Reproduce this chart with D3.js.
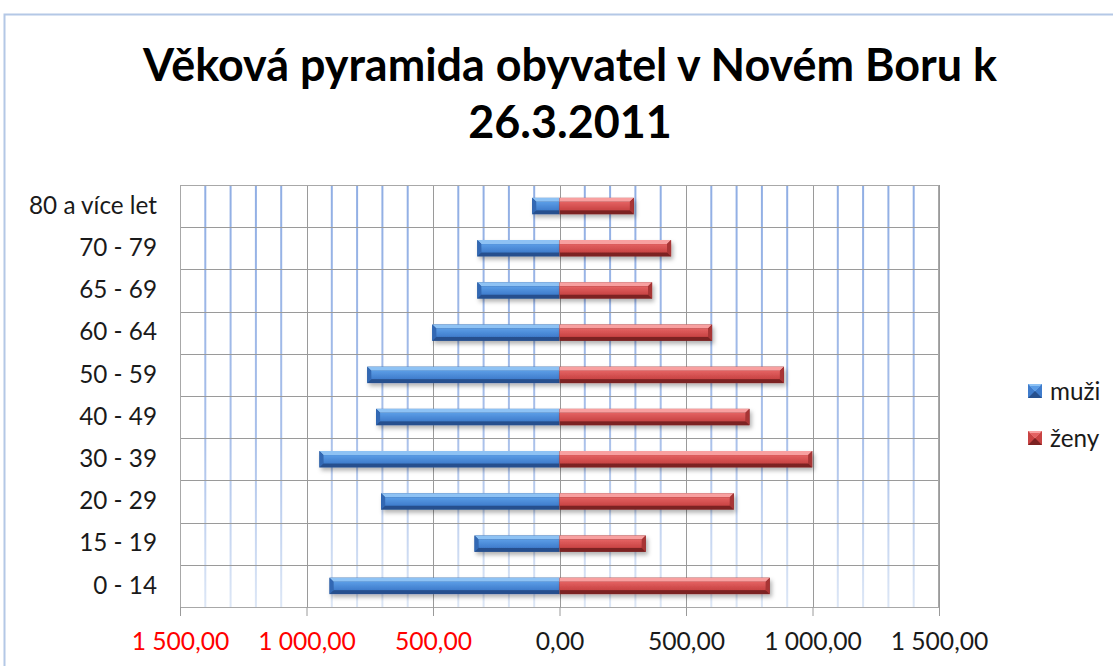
<!DOCTYPE html>
<html>
<head>
<meta charset="utf-8">
<script src="https://cdn.jsdelivr.net/npm/d3@7"></script>
<style>
  body { margin: 0; background: #fff; }
  svg { display: block; font-family: Lato, "Open Sans", sans-serif; }
</style>
</head>
<body>
<svg id="chart" width="1113" height="666"></svg>
<script>
// data
var categories = ["0 - 14", "15 - 19", "20 - 29", "30 - 39", "40 - 49", "50 - 59", "60 - 64", "65 - 69", "70 - 79", "80 a více let"]
var muzi = [909, 336, 705, 949, 725, 760, 503, 325, 325, 108]
var zeny = [831, 341, 689, 999, 751, 887, 603, 366, 441, 294]
var seriesNames = ["muži", "ženy"]
var titleLines = ["Věková pyramida obyvatel v Novém Boru k", "26.3.2011"]
var majorTicks = [-1500, -1000, -500, 0, 500, 1000, 1500]

var svg = d3.select('#chart')
var W = 1113, H = 666
var plot = {left: 180, right: 939, top: 185, bottom: 607}

var cz = d3.formatLocale({decimal: ",", thousands: " ", grouping: [3], currency: ["", " Kč"]})
var fmt = cz.format(",.2f")

// fit a text element to a width measured from the reference
function fit(sel, target) {
	var n = sel.node()
	var fs = parseFloat(sel.attr('font-size'))
	var w = n.getComputedTextLength()
	sel.attr('font-size', fs * target / w)
	return fs * target / w
}

var defs = svg.append('defs')

var shadow = defs.append('filter').attr('id', 'sh').attr('x', '-10%').attr('y', '-50%').attr('width', '130%').attr('height', '220%')
shadow.append('feDropShadow').attr('dx', 2).attr('dy', 3).attr('stdDeviation', 2).attr('flood-color', '#000').attr('flood-opacity', 0.3)

var gridGrad = defs.append('linearGradient').attr('id', 'gridGrad')
	.attr('gradientUnits', 'userSpaceOnUse').attr('x1', 0).attr('x2', 0).attr('y1', plot.top).attr('y2', plot.bottom)
gridGrad.append('stop').attr('offset', '0%').attr('stop-color', '#90aee4')
gridGrad.append('stop').attr('offset', '60%').attr('stop-color', '#a9c0ea')
gridGrad.append('stop').attr('offset', '100%').attr('stop-color', '#dde7f6')

var palettes = {
	muzi: {top: '#8ec2f4', face1: '#5b9de6', face2: '#3f7ccc', bottom: '#26508e', end: '#3168b4'},
	zeny: {top: '#f8a0a0', face1: '#e46262', face2: '#c84343', bottom: '#7c2222', end: '#a83535'}
}
Object.keys(palettes).forEach(function(k) {
	var g = defs.append('linearGradient').attr('id', 'face_' + k).attr('x1', 0).attr('x2', 0).attr('y1', 0).attr('y2', 1)
	g.append('stop').attr('offset', '0%').attr('stop-color', palettes[k].face1)
	g.append('stop').attr('offset', '100%').attr('stop-color', palettes[k].face2)
})

// outer frame
svg.append('rect')
	.attr('x', 4.5).attr('y', 14.5).attr('width', W + 20).attr('height', H + 20)
	.attr('fill', '#fff').attr('stroke', '#b4c8e6').attr('stroke-width', 2)

// title
var title = svg.append('text')
	.attr('text-anchor', 'middle').attr('font-weight', 'bold').attr('fill', '#000')
title.append('tspan').attr('x', 570).attr('y', 81).text(titleLines[0])
title.append('tspan').attr('x', 570).attr('y', 138).text(titleLines[1])
title.attr('font-size', 38)
var t0 = title.select('tspan').node().getComputedTextLength()
title.attr('font-size', 38 * 854 / t0)

var x = d3.scaleLinear().domain([-1500, 1500]).range([plot.left, plot.right])
var y = d3.scaleBand().domain(categories.slice().reverse()).range([plot.top, plot.bottom])

// minor gridlines (every 100)
var minor = d3.range(-1400, 1500, 100).filter(function(d) { return d % 500 !== 0 })
svg.append('g').selectAll('line').data(minor).join('line')
	.attr('x1', function(d) { return x(d) }).attr('x2', function(d) { return x(d) })
	.attr('y1', plot.top).attr('y2', plot.bottom)
	.attr('stroke', 'url(#gridGrad)').attr('stroke-width', 2)

// horizontal category boundaries
svg.append('g').selectAll('line').data(categories).join('line')
	.attr('x1', plot.left).attr('x2', plot.right)
	.attr('y1', function(d) { return Math.round(y(d)) + 0.5 }).attr('y2', function(d) { return Math.round(y(d)) + 0.5 })
	.attr('stroke', '#9a9a9a').attr('stroke-width', 1)

// major gridlines
svg.append('g').selectAll('line').data(majorTicks).join('line')
	.attr('x1', function(d) { return Math.round(x(d)) + 0.5 }).attr('x2', function(d) { return Math.round(x(d)) + 0.5 })
	.attr('y1', plot.top).attr('y2', plot.bottom)
	.attr('stroke', '#9a9a9a').attr('stroke-width', 1)

svg.append('rect')
	.attr('x', plot.left + 0.5).attr('y', plot.top + 0.5)
	.attr('width', plot.right - plot.left - 1).attr('height', plot.bottom - plot.top)
	.attr('fill', 'none').attr('stroke', '#a8a8a8')

// beveled bar, outer = side of the free end (-1 left, 1 right)
function bar(g, xa, xb, yt, h, p, key, outer) {
	var b = 4
	var x0 = Math.min(xa, xb), x1 = Math.max(xa, xb)
	var gb = g.append('g').attr('filter', 'url(#sh)')
	gb.append('rect').attr('x', x0).attr('y', yt).attr('width', x1 - x0).attr('height', h).attr('fill', p.bottom)
	var l = outer < 0 ? b : 0, r = outer > 0 ? b : 0
	// top bevel
	gb.append('polygon').attr('fill', p.top)
		.attr('points', [[x0, yt], [x1, yt], [x1 - r, yt + b], [x0 + l, yt + b]].join(' '))
	// end cap
	var ex = outer < 0 ? x0 : x1, ei = outer < 0 ? x0 + b : x1 - b
	gb.append('polygon').attr('fill', p.end)
		.attr('points', [[ex, yt], [ei, yt + b], [ei, yt + h - b], [ex, yt + h]].join(' '))
	// face
	gb.append('rect').attr('x', x0 + l).attr('y', yt + b).attr('width', x1 - x0 - l - r).attr('height', h - 2 * b)
		.attr('fill', 'url(#face_' + key + ')')
}

var barH = y.bandwidth() * 0.39
var bars = svg.append('g')
categories.forEach(function(c, i) {
	var yt = y(c) + (y.bandwidth() - barH) / 2
	bar(bars, x(-muzi[i]), x(0), yt, barH, palettes.muzi, 'muzi', -1)
	bar(bars, x(0), x(zeny[i]), yt, barH, palettes.zeny, 'zeny', 1)
})

// x axis
var xAxis = svg.append('g').attr('transform', 'translate(0,' + plot.bottom + ')')
	.call(d3.axisBottom(x).tickValues(majorTicks).tickSize(9).tickPadding(16)
		.tickFormat(function(d) { return fmt(Math.abs(d)) }))
xAxis.select('.domain').remove()
xAxis.selectAll('.tick line').attr('stroke', '#9a9a9a')
xAxis.selectAll('.tick text')
	.attr('font-family', 'Lato, sans-serif').attr('font-size', 22)
	.attr('fill', function(d) { return d < 0 ? '#ff0000' : '#1a1a1a' })
var tickFs = fit(xAxis.selectAll('.tick text').filter(function(d) { return d === 1000 }), 94)
xAxis.selectAll('.tick text').attr('font-size', tickFs * 1.04)

// y axis labels
var yAxis = svg.append('g').attr('transform', 'translate(' + plot.left + ',0)')
	.call(d3.axisLeft(y).tickSize(0).tickPadding(23))
yAxis.select('.domain').remove()
yAxis.selectAll('.tick text').attr('font-family', 'Lato, sans-serif').attr('font-size', 20).attr('fill', '#1a1a1a')
var yFs = fit(yAxis.selectAll('.tick text').filter(function(d) { return d === "80 a více let" }), 128)
yAxis.selectAll('.tick text').attr('font-size', yFs)

// legend
var legend = svg.append('g').attr('transform', 'translate(1028,384)')
var lg = legend.selectAll('g').data(seriesNames).join('g')
	.attr('transform', function(d, i) { return 'translate(0,' + i * 47 + ')' })
lg.each(function(d, i) {
	var key = i === 0 ? 'muzi' : 'zeny'
	var p = palettes[key]
	var g = d3.select(this)
	g.append('rect').attr('width', 14).attr('height', 14).attr('fill', p.face2)
	g.append('polygon').attr('fill', p.top).attr('points', '0,0 14,0 7,7')
	g.append('polygon').attr('fill', p.bottom).attr('points', '0,14 14,14 7,7')
	g.append('polygon').attr('fill', p.face1).attr('points', '2,2 12,2 7,7')
})
lg.append('text').attr('x', 22).attr('y', 7).attr('dy', '0.35em')
	.attr('font-size', yFs).attr('fill', '#1a1a1a')
	.text(function(d) { return d })
</script>
</body>
</html>
